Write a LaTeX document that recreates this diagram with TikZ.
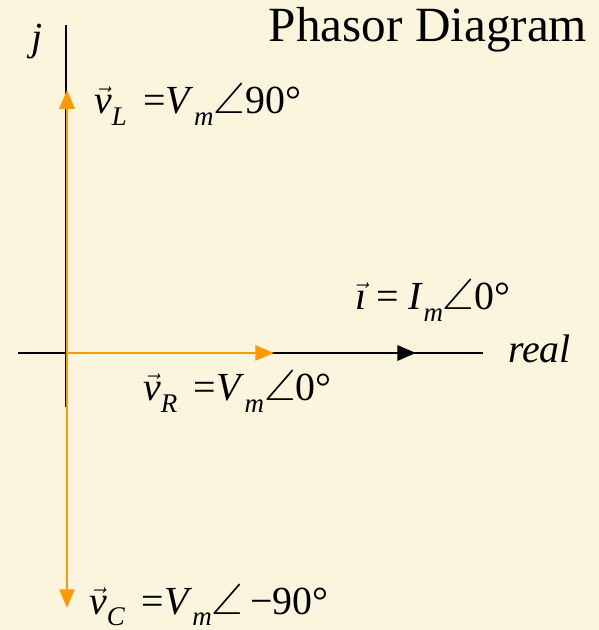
\documentclass[tikz,border=0pt]{standalone}
\usepackage{amsmath,amssymb}
\usepackage{fontspec}
\setmainfont{Liberation Serif}
\usetikzlibrary{arrows.meta}

\definecolor{parchment}{RGB}{252,245,222}
\definecolor{phasorcol}{RGB}{255,153,0}

\newcommand{\lsub}[1]{\raisebox{-10pt}{\fontsize{23}{25}\selectfont\textit{#1}}}
\newcommand{\vph}[1]{$\vec{\textit{v}}$\lsub{#1}}
\newcommand{\Vm}{\textit{V}\lsub{m}\scalebox{1.1}{$\angle$}}

\tikzset{
  axis/.style={draw=black,line width=2.4pt},
  phasorarrow/.style={draw=phasorcol,line width=1.8pt,-{Triangle[length=16pt,width=13pt]}},
  currarrow/.style={draw=black,line width=2.4pt,-{Triangle[length=16pt,width=13pt]}},
  lbl/.style={font=\fontsize{34}{36}\selectfont,inner sep=0pt},
}

\begin{document}
\begin{tikzpicture}[x=0.03cm,y=-0.03cm]
    \fill[parchment] (0,0) rectangle (599,630);
    \useasboundingbox (0,0) rectangle (599,630);

    \coordinate (O) at (67,353);
    \coordinate (xl) at (18,353);
    \coordinate (xr) at (483,353);
    \coordinate (yt) at (66,25);
    \coordinate (yb) at (66,407);
    \coordinate (L) at (67,90);
    \coordinate (C) at (67,608);
    \coordinate (R) at (274,353);
    \coordinate (I) at (416,353);

    \draw [axis] (xl) -- (xr);
    \draw [axis] (yt) -- (yb);
    \draw [currarrow] (O) -- (I);
    \draw [phasorarrow] (O) -- (L);
    \draw [phasorarrow] (O) -- (C);
    \draw [phasorarrow] (O) -- (R);

    \node[lbl] (jlbl) at (37,42) {\textit{j}};
    \node[lbl,font=\fontsize{42}{44}\selectfont] (title) at (428,30) {Phasor Diagram};
    \node[lbl,anchor=west] (vL) at (94,104) {\vph{L}\, =\Vm 90°};
    \node[lbl,anchor=west] (ilbl) at (355,300) {$\vec{\textit{\i}}$ = \textit{I}\lsub{m}\scalebox{1.1}{$\angle$}0°};
    \node[lbl,anchor=west] (real) at (508,349) {\textit{real}};
    \node[lbl,anchor=west] (vR) at (143,391) {\vph{R}\, =\Vm 0°};
    \node[lbl,anchor=west] (vC) at (89,605) {\vph{C}\, =\Vm\,−90°};
\end{tikzpicture}
\end{document}
